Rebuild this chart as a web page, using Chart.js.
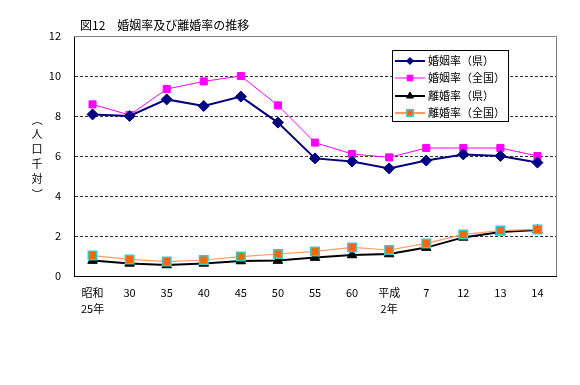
<!DOCTYPE html>
<html>
<head>
<meta charset="utf-8">
<script src="https://cdn.jsdelivr.net/npm/chart.js@4"></script>
<style>
html, body { margin: 0; padding: 0; background: #fff; }
</style>
</head>
<body>
<canvas id="graph" width="580" height="385"></canvas>
<script>
// data
var years = [['昭和', '25年'], '30', '35', '40', '45', '50', '55', '60', ['平成', '2年'], '7', '12', '13', '14'];
var marriageKen = [8.08, 8.0, 8.83, 8.5, 8.97, 7.67, 5.88, 5.72, 5.38, 5.77, 6.08, 6.0, 5.67];
var marriageZenkoku = [8.58, 8.05, 9.35, 9.73, 10.0, 8.53, 6.67, 6.1, 5.93, 6.4, 6.4, 6.4, 6.0];
var divorceKen = [0.77, 0.63, 0.55, 0.63, 0.75, 0.77, 0.92, 1.05, 1.1, 1.42, 1.93, 2.2, 2.3];
var divorceZenkoku = [1.02, 0.83, 0.72, 0.8, 0.97, 1.1, 1.23, 1.43, 1.3, 1.63, 2.08, 2.27, 2.33];
var seriesNames = ['婚姻率（県）', '婚姻率（全国）', '離婚率（県）', '離婚率（全国）'];
var yLabelChars = ['（', '人', '口', '千', '対', '）'];
var titleText = '図12　婚姻率及び離婚率の推移';

var font = '"Noto Sans CJK JP", "Noto Sans", sans-serif';
Chart.defaults.font.family = font;
Chart.defaults.font.size = 11;
Chart.defaults.color = '#000';

var colors = {
    navy: '#000080',
    magenta: '#FF00FF',
    black: '#000000',
    orangeLine: '#FF9966',
    orange: '#FF6600',
    cyan: '#33CCCC'
};

var datasets = [
    {
        label: seriesNames[0],
        data: marriageKen,
        borderColor: colors.navy,
        backgroundColor: colors.navy,
        borderWidth: 2,
        pointStyle: 'rectRot',
        pointRadius: 5.5,
        pointBorderWidth: 1,
        legendRadius: 3.5,
        legendWidth: 2,
        order: 1
    },
    {
        label: seriesNames[1],
        data: marriageZenkoku,
        borderColor: colors.magenta,
        backgroundColor: colors.magenta,
        borderWidth: 1,
        pointStyle: 'rect',
        pointRadius: 5,
        pointBorderWidth: 1,
        legendRadius: 4,
        legendWidth: 1,
        order: 2
    },
    {
        label: seriesNames[2],
        data: divorceKen,
        borderColor: colors.black,
        backgroundColor: colors.black,
        borderWidth: 2,
        pointStyle: 'triangle',
        pointRadius: 5.5,
        pointBorderWidth: 1,
        legendRadius: 4,
        legendWidth: 2,
        order: 4
    },
    {
        label: seriesNames[3],
        data: divorceZenkoku,
        borderColor: colors.orangeLine,
        backgroundColor: colors.orange,
        pointBorderColor: colors.cyan,
        borderWidth: 1.2,
        pointStyle: 'rect',
        pointRadius: 6,
        pointBorderWidth: 1.5,
        legendRadius: 4.5,
        legendWidth: 2,
        order: 3
    }
];

datasets.forEach(function(ds) {
    ds.fill = false;
    ds.tension = 0;
    ds.pointHoverRadius = ds.pointRadius;
    if (!ds.pointBorderColor) ds.pointBorderColor = ds.borderColor;
    ds.pointBackgroundColor = ds.backgroundColor;
});

var decor = {
    id: 'decor',
    beforeDatasetsDraw: function(chart) {
        var ctx = chart.ctx, a = chart.chartArea;
        ctx.save();
        ctx.strokeStyle = '#808080';
        ctx.lineWidth = 1;
        ctx.beginPath();
        ctx.moveTo(a.left, Math.round(a.top) + 0.5);
        ctx.lineTo(Math.round(a.right) + 0.5, Math.round(a.top) + 0.5);
        ctx.lineTo(Math.round(a.right) + 0.5, a.bottom);
        ctx.stroke();
        ctx.restore();
    },
    afterDraw: function(chart) {
        var ctx = chart.ctx;
        ctx.save();
        ctx.fillStyle = '#000';
        ctx.textBaseline = 'middle';

        // title
        ctx.font = '12px ' + font;
        ctx.textAlign = 'left';
        ctx.fillText(titleText, 80, 25);

        // vertical y axis label (brackets turned for vertical writing)
        ctx.font = '11px ' + font;
        ctx.textAlign = 'center';
        var ys = [120, 134, 149, 164, 179, 194];
        yLabelChars.forEach(function(ch, i) {
            if (i === 0 || i === yLabelChars.length - 1) {
                ctx.save();
                ctx.translate(37, ys[i]);
                ctx.rotate(Math.PI / 2);
                ctx.fillText(ch, 0, 0);
                ctx.restore();
            } else {
                ctx.fillText(ch, 37, ys[i]);
            }
        });

        // legend box
        var bx = 392.5, by = 50.5, bw = 116, bh = 71;
        ctx.fillStyle = '#fff';
        ctx.fillRect(bx, by, bw, bh);
        ctx.strokeStyle = '#000';
        ctx.lineWidth = 1;
        ctx.strokeRect(bx, by, bw, bh);

        var rows = [61, 78, 96, 113];
        chart.data.datasets.forEach(function(ds, i) {
            var y = rows[i];
            ctx.strokeStyle = ds.borderColor;
            ctx.lineWidth = ds.legendWidth;
            ctx.beginPath();
            ctx.moveTo(395, y);
            ctx.lineTo(425, y);
            ctx.stroke();
            ctx.fillStyle = ds.pointBackgroundColor;
            ctx.strokeStyle = ds.pointBorderColor;
            ctx.lineWidth = ds.pointBorderWidth;
            Chart.helpers.drawPoint(ctx, {
                pointStyle: ds.pointStyle,
                radius: ds.legendRadius,
                borderWidth: ds.pointBorderWidth,
                rotation: 0
            }, 410, y);
            ctx.fillStyle = '#000';
            ctx.font = '11px ' + font;
            ctx.textAlign = 'left';
            ctx.fillText(ds.label, 428, y);
        });
        ctx.restore();
    }
};

var ctx = document.getElementById('graph');
var g = new Chart(ctx, {
    type: 'line',
    data: {
        labels: years,
        datasets: datasets
    },
    options: {
        responsive: false,
        animation: false,
        layout: {
            padding: { left: 0, right: 24, top: 36, bottom: 0 }
        },
        plugins: {
            legend: { display: false },
            title: { display: false },
            tooltip: { enabled: false }
        },
        scales: {
            x: {
                offset: true,
                grid: { display: false, drawTicks: false },
                border: { color: '#000', width: 1 },
                ticks: {
                    autoSkip: false,
                    maxRotation: 0,
                    padding: 9,
                    font: { size: 11, lineHeight: 1.45 }
                },
                afterFit: function(scale) { scale.height = 109; }
            },
            y: {
                min: 0,
                max: 12,
                grid: {
                    drawTicks: false,
                    color: function(c) {
                        var v = c.tick ? c.tick.value : null;
                        return (v === 0 || v === 12) ? 'rgba(0,0,0,0)' : '#333';
                    }
                },
                border: { color: '#000', width: 1, dash: [3, 2] },
                ticks: {
                    stepSize: 2,
                    padding: 13,
                    font: { size: 11 }
                },
                afterFit: function(scale) { scale.width = 74; }
            }
        }
    },
    plugins: [decor]
});
</script>
</body>
</html>
